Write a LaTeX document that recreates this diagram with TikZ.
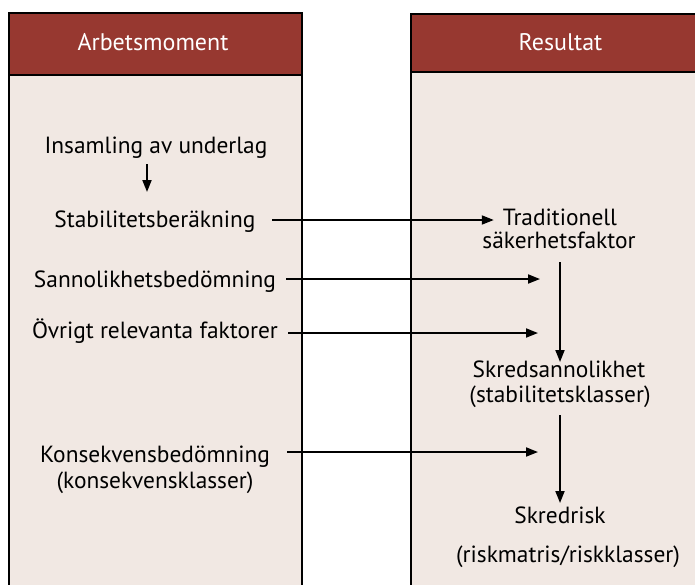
\documentclass[tikz,border=0pt]{standalone}
\usepackage{fontspec}
\setmainfont{PT Sans}
\usetikzlibrary{arrows.meta}
\definecolor{headred}{HTML}{973830}
\definecolor{bodypink}{HTML}{F1E8E3}
\tikzset{
  panel/.style={draw=black, line width=2pt, fill=bodypink},
  header/.style={draw=black, line width=2pt, fill=headred},
  headtext/.style={text=white, font=\fontsize{24}{28}\selectfont, inner sep=0pt, anchor=base},
  txt/.style={font=\fontsize{23.4}{28}\selectfont, inner sep=0pt, anchor=base},
  arr/.style={line width=1.8pt, -{Triangle[length=12pt,width=9pt]}},
}
\begin{document}
\begin{tikzpicture}[x=1pt,y=-1pt]
\useasboundingbox (0,0) rectangle (695,584);
\clip (0,0) rectangle (695,584);
% columns
\draw[panel] (9,12.5) rectangle (302,600);
\draw[header] (9,12.5) rectangle (302,75);
\draw[panel] (411,14) rectangle (710,600);
\draw[header] (411,14) rectangle (710,72);
\node[headtext] (hl) at (153,50) {Arbetsmoment};
\node[headtext] (hr) at (560.5,50) {Resultat};
% left column items
\node[txt] (ins) at (156,153) {Insamling av underlag};
\node[txt] (stab) at (155,227) {Stabilitetsberäkning};
\node[txt] (sann) at (155,287) {Sannolikhetsbedömning};
\node[txt] (ovr) at (155,338) {Övrigt relevanta faktorer};
\node[txt] (kons1) at (155,462) {Konsekvensbedömning};
\node[txt] (kons2) at (155,488) {(konsekvensklasser)};
% right column items
\node[txt] (trad1) at (560,225) {Traditionell};
\node[txt] (trad2) at (559,248) {säkerhetsfaktor};
\node[txt] (skp1) at (559,377) {Skredsannolikhet};
\node[txt] (skp2) at (560,402) {(stabilitetsklasser)};
\node[txt] (risk1) at (560,523) {Skredrisk};
\node[txt] (risk2) at (568,562) {(riskmatris/riskklasser)};
% free ends of the incoming arrows
\coordinate (e1) at (540,279);
\coordinate (e2) at (538,333);
\coordinate (e3) at (538,452);
% connectors
\draw[arr] (147,164) coordinate (s0) -- (s0 |- 0,192);
\draw[arr] (272,220) -- ([xshift=-9pt]trad1.west |- 0,220);
\draw[arr] ([xshift=10pt]sann.east |- e1) -- (e1);
\draw[arr] ([xshift=10pt]ovr.east |- e2) -- (e2);
\draw[arr] (287,452) -- (e3);
\draw[arr] (560,262) coordinate (v1) -- (v1 |- 0,362);
\draw[arr] (560,415) coordinate (v2) -- (v2 |- 0,503);
\end{tikzpicture}
\end{document}
